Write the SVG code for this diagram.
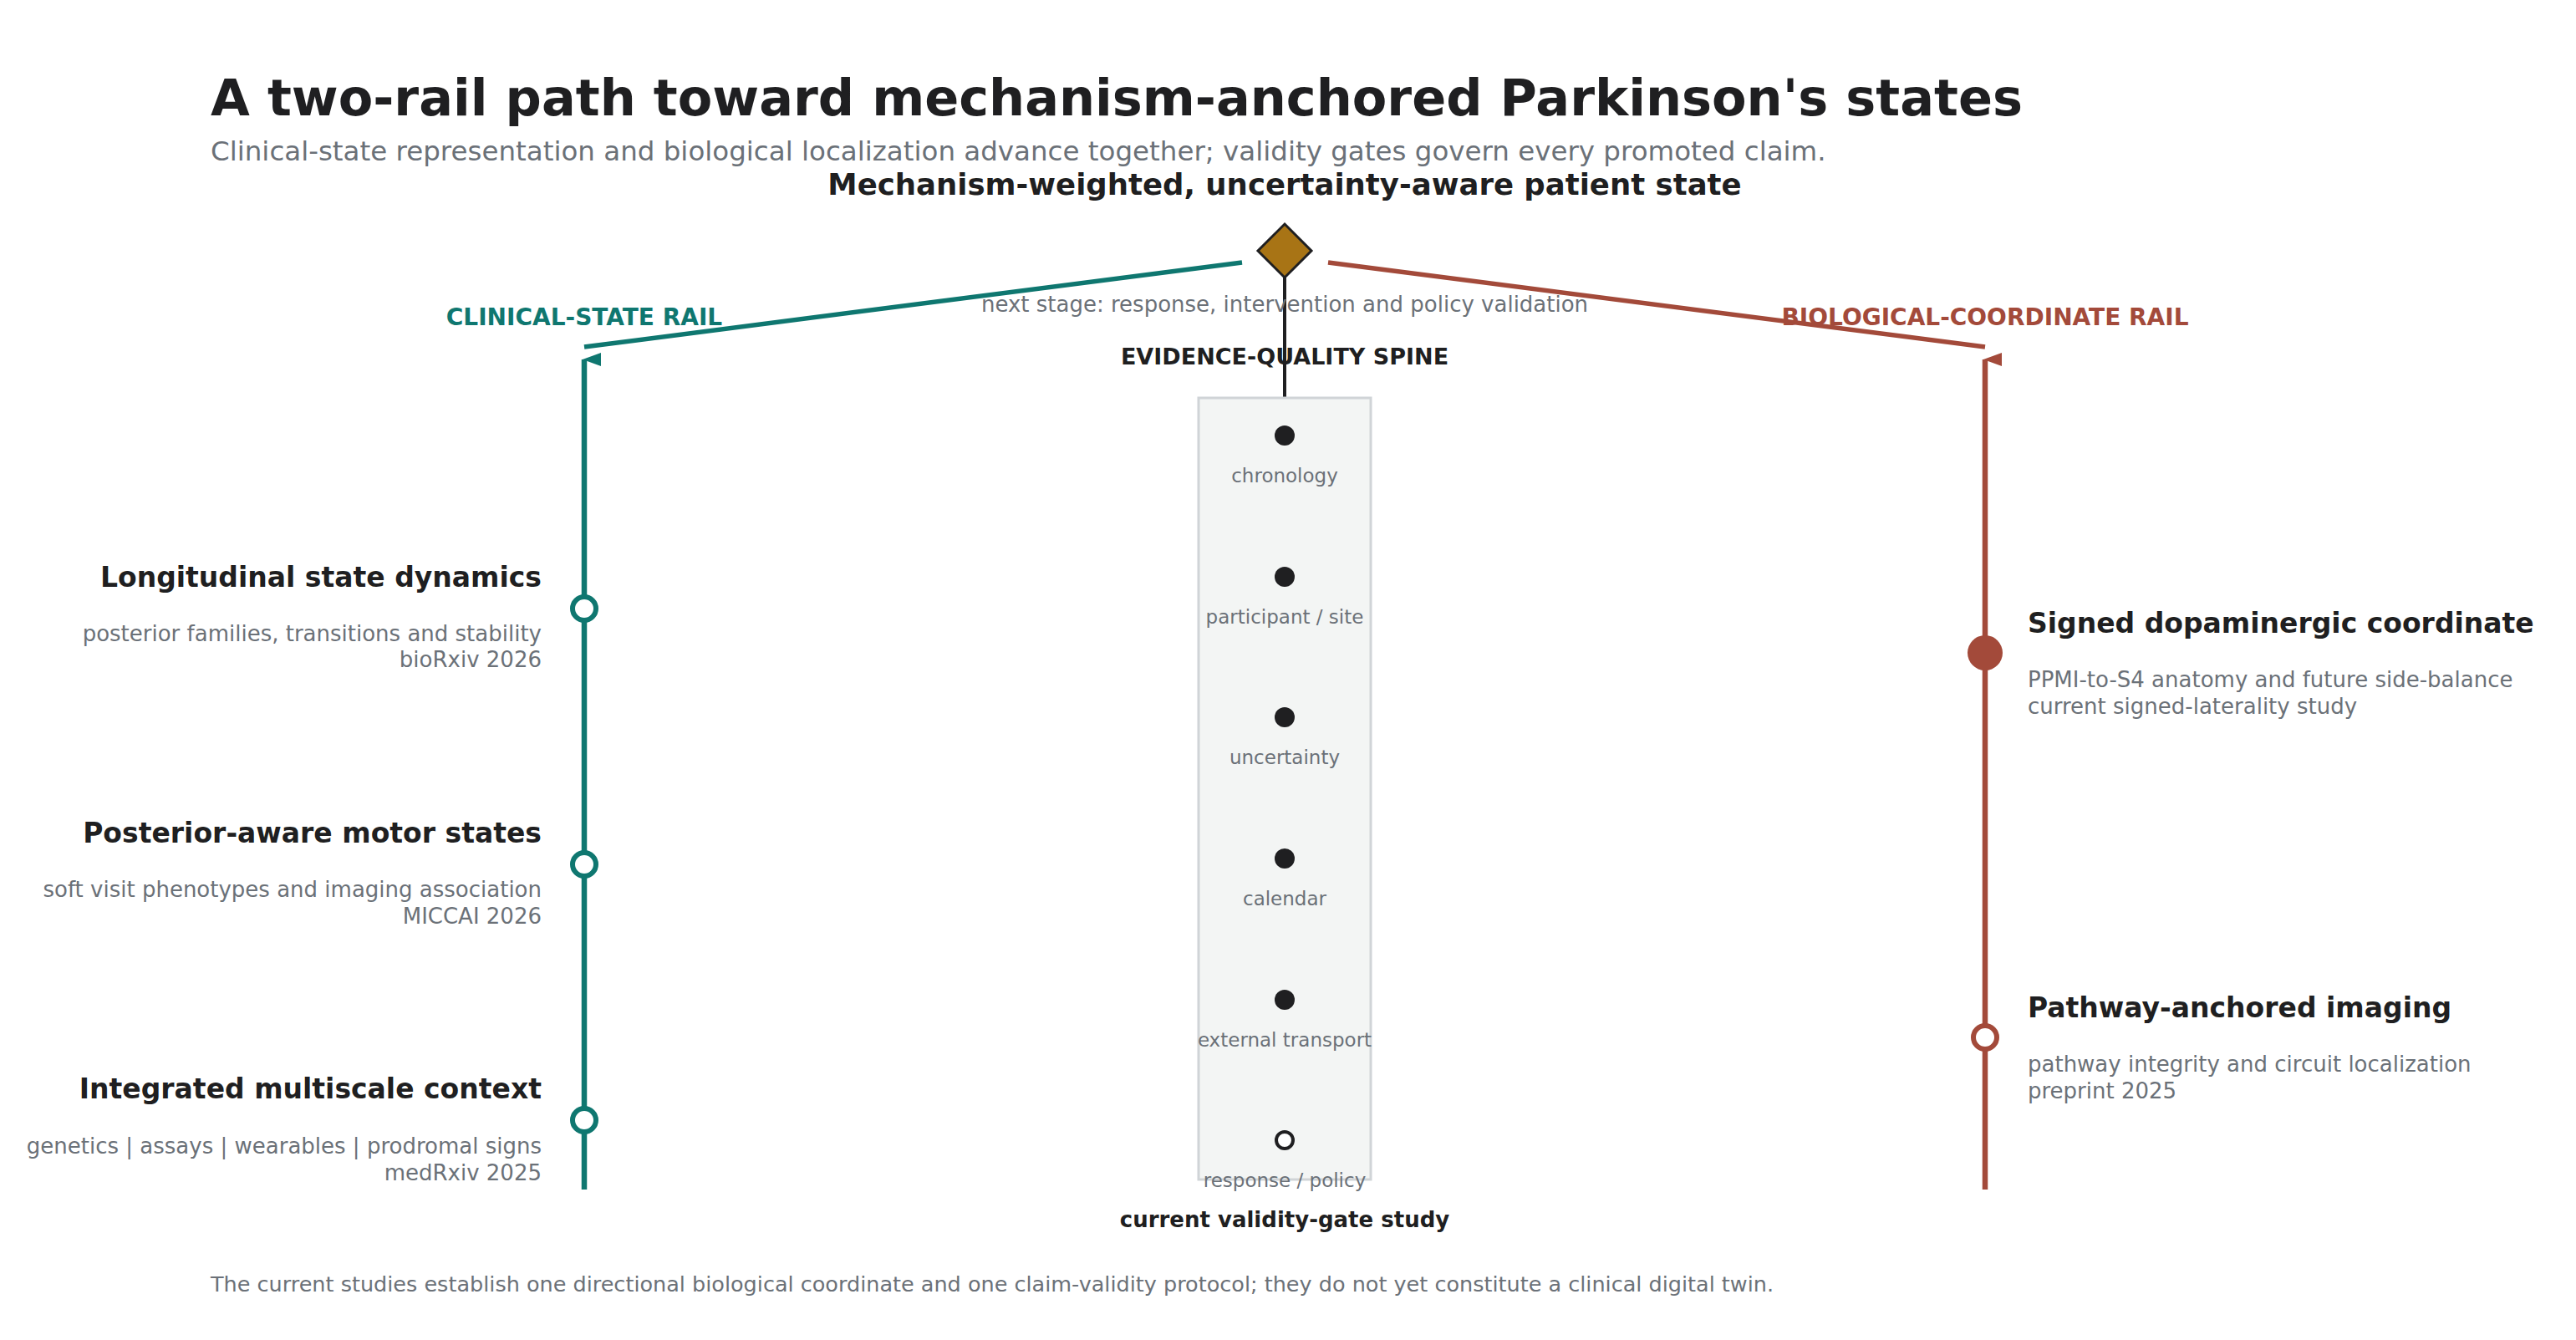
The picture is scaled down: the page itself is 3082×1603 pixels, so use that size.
<svg xmlns="http://www.w3.org/2000/svg" width="3082" height="1603" viewBox="0 0 3082 1603">
<defs>
<style>
text{font-family:"DejaVu Sans","Liberation Sans",sans-serif}
.b{font-weight:bold;fill:#1f1f21}
.g{fill:#6b7178}
.ttl{font-size:33px}
.sub{font-size:26px}
.spl{font-size:23px;text-anchor:middle}
.dot{fill:#1f1f21}
</style>
<marker id="at" viewBox="0 0 20 24" refX="10" refY="2" markerWidth="20" markerHeight="24" orient="auto-start-reverse" markerUnits="userSpaceOnUse"><path d="M10,0 L18,22 L2,22 Z" fill="#0f7770"/></marker>
<marker id="ar" viewBox="0 0 20 24" refX="10" refY="2" markerWidth="20" markerHeight="24" orient="auto-start-reverse" markerUnits="userSpaceOnUse"><path d="M10,0 L18,22 L2,22 Z" fill="#a34a3a"/></marker>
</defs>
<rect width="3082" height="1603" fill="#fff"/>
<text x="252" y="138" class="b" font-size="60.5">A two-rail path toward mechanism-anchored Parkinson's states</text>
<text x="252" y="192" class="g" font-size="32.5">Clinical-state representation and biological localization advance together; validity gates govern every promoted claim.</text>

<g id="connectors">
<line x1="1486" y1="314" x2="699" y2="415" stroke="#0f7770" stroke-width="5.5"/>
<line x1="1589" y1="314" x2="2375" y2="415" stroke="#a34a3a" stroke-width="5.5"/>
<line x1="1537" y1="320" x2="1537" y2="476" stroke="#1f1f21" stroke-width="4"/>
<line x1="699" y1="1423" x2="699" y2="430" stroke="#0f7770" stroke-width="6.5" marker-end="url(#at)"/>
<line x1="2375" y1="1423" x2="2375" y2="430" stroke="#a34a3a" stroke-width="6.5" marker-end="url(#ar)"/>
</g>

<g id="goal">
<text x="1537" y="233" class="b" font-size="35.5" text-anchor="middle">Mechanism-weighted, uncertainty-aware patient state</text>
<path d="M1537,268 L1569,300 L1537,332 L1505,300 Z" fill="#a87415" stroke="#1f1f21" stroke-width="3"/>
<text x="1537" y="373" class="g" font-size="26" text-anchor="middle">next stage: response, intervention and policy validation</text>
</g>

<text x="699" y="389" font-size="28" font-weight="bold" fill="#0f7770" text-anchor="middle">CLINICAL-STATE RAIL</text>
<text x="2375" y="389" font-size="28" font-weight="bold" fill="#a34a3a" text-anchor="middle">BIOLOGICAL-COORDINATE RAIL</text>

<g id="spine">
<text x="1537" y="436" class="b" font-size="27" text-anchor="middle">EVIDENCE-QUALITY SPINE</text>
<rect x="1434" y="476" width="206" height="935" fill="#f3f5f4" stroke="#d0d4d7" stroke-width="3"/>
<circle cx="1537" cy="521" r="12" class="dot"/><text x="1537" y="577" class="g spl">chronology</text>
<circle cx="1537" cy="690" r="12" class="dot"/><text x="1537" y="746" class="g spl">participant / site</text>
<circle cx="1537" cy="858" r="12" class="dot"/><text x="1537" y="914" class="g spl">uncertainty</text>
<circle cx="1537" cy="1027" r="12" class="dot"/><text x="1537" y="1083" class="g spl">calendar</text>
<circle cx="1537" cy="1196" r="12" class="dot"/><text x="1537" y="1252" class="g spl">external transport</text>
<circle cx="1537" cy="1364" r="10" fill="#fff" stroke="#1f1f21" stroke-width="4"/><text x="1537" y="1420" class="g spl">response / policy</text>
<text x="1537" y="1468" class="b" font-size="26" text-anchor="middle">current validity-gate study</text>
</g>

<g id="clin1">
<circle cx="699" cy="728" r="14" fill="#fff" stroke="#0f7770" stroke-width="6"/>
<text x="648" y="702" class="b ttl" text-anchor="end">Longitudinal state dynamics</text>
<text x="648" y="767" class="g sub" text-anchor="end">posterior families, transitions and stability</text>
<text x="648" y="798" class="g sub" text-anchor="end">bioRxiv 2026</text>
</g>
<g id="clin2">
<circle cx="699" cy="1034" r="14" fill="#fff" stroke="#0f7770" stroke-width="6"/>
<text x="648" y="1008" class="b ttl" text-anchor="end">Posterior-aware motor states</text>
<text x="648" y="1073" class="g sub" text-anchor="end">soft visit phenotypes and imaging association</text>
<text x="648" y="1105" class="g sub" text-anchor="end">MICCAI 2026</text>
</g>
<g id="clin3">
<circle cx="699" cy="1340" r="14" fill="#fff" stroke="#0f7770" stroke-width="6"/>
<text x="648" y="1314" class="b ttl" text-anchor="end">Integrated multiscale context</text>
<text x="648" y="1380" class="g sub" text-anchor="end">genetics | assays | wearables | prodromal signs</text>
<text x="648" y="1412" class="g sub" text-anchor="end">medRxiv 2025</text>
</g>
<g id="bio1">
<circle cx="2375" cy="781" r="21" fill="#a34a3a"/>
<text x="2426" y="757" class="b ttl">Signed dopaminergic coordinate</text>
<text x="2426" y="822" class="g sub">PPMI-to-S4 anatomy and future side-balance</text>
<text x="2426" y="854" class="g sub">current signed-laterality study</text>
</g>
<g id="bio2">
<circle cx="2375" cy="1241" r="14" fill="#fff" stroke="#a34a3a" stroke-width="6"/>
<text x="2426" y="1217" class="b ttl">Pathway-anchored imaging</text>
<text x="2426" y="1282" class="g sub">pathway integrity and circuit localization</text>
<text x="2426" y="1314" class="g sub">preprint 2025</text>
</g>

<text x="252" y="1545" class="g" font-size="25.5">The current studies establish one directional biological coordinate and one claim-validity protocol; they do not yet constitute a clinical digital twin.</text>
</svg>
